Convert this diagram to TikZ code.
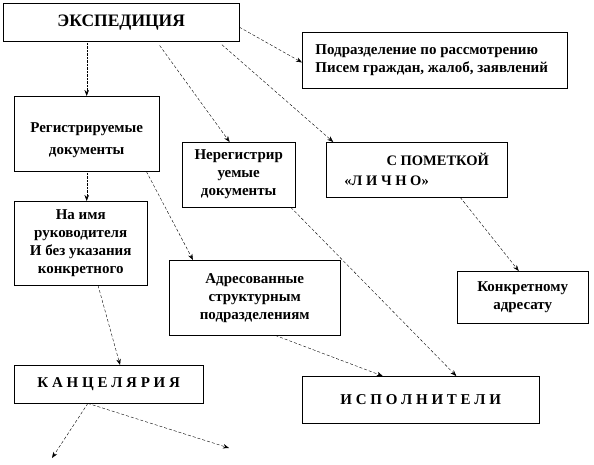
\documentclass[tikz,border=0pt]{standalone}
\usepackage{fontspec}
\setmainfont{Liberation Serif}
\usetikzlibrary{arrows.meta, calc}

\begin{document}
\begin{tikzpicture}[x=1pt, y=-1pt,
      box/.style={draw, thin, anchor=north west, align=center, inner sep=2pt,
                  font=\bfseries\fontsize{15}{18}\selectfont},
      arr/.style={-{Stealth[length=6pt, width=4.5pt]}, thin, densely dashed},
      darr/.style={-{Stealth[length=6pt, width=4.5pt]}, thin, densely dotted}]
    \useasboundingbox (0,0) rectangle (594,465);
    \node[box, minimum width=236pt, minimum height=38pt,
          font=\bfseries\fontsize{17.5}{20}\selectfont] (exp) at (3,3) {ЭКСПЕДИЦИЯ};
    \node[box, minimum width=265pt, minimum height=56pt, align=left] (podr) at (302,32)
      {\hspace*{-6pt}Подразделение по рассмотрению\\\hspace*{-6pt}Писем граждан, жалоб, заявлений};
    \node[box, minimum width=145pt, minimum height=75pt] (reg) at (14,96)
      {\\[5pt]Регистрируемые\\[4pt]документы};
    \node[box, minimum width=113pt, minimum height=65pt] (nereg) at (182,142)
      {Нерегистрир\\уемые\\документы};
    \node[box, minimum width=181pt, minimum height=55pt, align=left,
          font=\bfseries\fontsize{14.5}{20}\selectfont] (lichno) at (326,142)
      {\hspace*{2.9em}С ПОМЕТКОЙ\\«Л И Ч Н О»};
    \node[box, minimum width=133pt, minimum height=84pt] (naimya) at (14,201)
      {На имя\\руководителя\\И без указания\\конкретного};
    \node[box, minimum width=171pt, minimum height=75pt] (adres) at (169,260)
      {Адресованные\\структурным\\подразделениям};
    \node[box, minimum width=131pt, minimum height=52pt] (konkr) at (457,271)
      {Конкретному\\адресату};
    \node[box, minimum width=189pt, minimum height=38pt] (kanc) at (14,365)
      {К А Н Ц Е Л Я Р И Я};
    \node[box, minimum width=237pt, minimum height=47pt] (ispol) at (302,376)
      {\raisebox{-7pt}{И С П О Л Н И Т Е Л И}};
    \coordinate (out1) at (52,458);
    \coordinate (out2) at (229,448);
    % from the expedition
    \draw[darr] (exp.south -| reg.north) -- (reg.north);
    \draw[arr, shorten <=5pt] ($(exp.south west)!0.65!(exp.south east)$)
      -- ($(nereg.north west)!0.42!(nereg.north east)$);
    \draw[arr, shorten <=5pt] ($(exp.south west)!0.91!(exp.south east)$)
      -- ($(lichno.north west)!0.04!(lichno.north east)$);
    \draw[arr] ($(exp.north east)!0.63!(exp.south east)$)
      -- ($(podr.north west)!0.54!(podr.south west)$);
    % registered and not
    \draw[darr] (reg.south) -- (reg.south |- naimya.north);
    \draw[arr] ($(reg.south west)!0.91!(reg.south east)$)
      -- ($(adres.north west)!0.14!(adres.north east)$);
    \draw[arr] ($(naimya.south west)!0.63!(naimya.south east)$)
      -- ($(kanc.north west)!0.56!(kanc.north east)$);
    \draw[arr] ($(nereg.south west)!0.96!(nereg.south east)$)
      -- ($(ispol.north west)!0.65!(ispol.north east)$);
    \draw[arr] ($(lichno.south west)!0.74!(lichno.south east)$)
      -- ($(konkr.north west)!0.47!(konkr.north east)$);
    \draw[arr] ($(adres.south west)!0.62!(adres.south east)$)
      -- ($(ispol.north west)!0.34!(ispol.north east)$);
    % out of the office
    \draw[arr] ($(kanc.south west)!0.39!(kanc.south east)$) -- (out1);
    \draw[arr] ($(kanc.south west)!0.39!(kanc.south east)$) -- (out2);
  \end{tikzpicture}
\end{document}
